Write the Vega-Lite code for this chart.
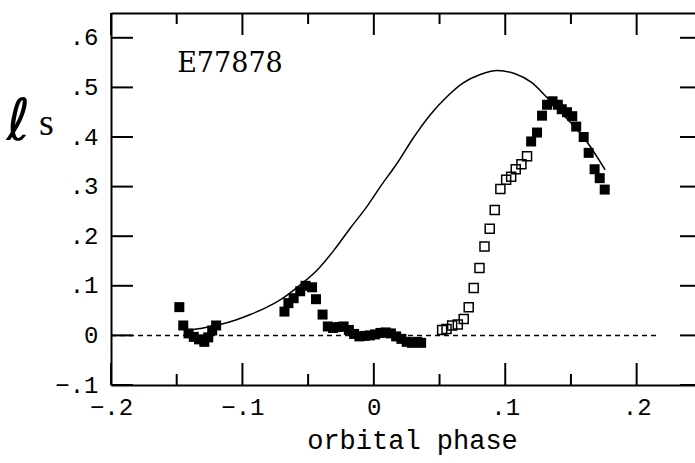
{
  "$schema": "https://vega.github.io/schema/vega-lite/v6.json",
  "width": 584,
  "height": 372,
  "autosize": {"type": "none"},
  "padding": {"left": 111, "top": 13, "right": 0, "bottom": 78},
  "background": "white",
  "config": {
    "view": {"stroke": null},
    "axis": {
      "domainColor": "black",
      "domainWidth": 2,
      "grid": false,
      "labelFont": "Liberation Mono",
      "labelFontSize": 24,
      "labelColor": "black",
      "titleColor": "black"
    }
  },
  "datasets": {
    "model": [
      {"phase": -0.139, "ls": 0.011},
      {"phase": -0.130, "ls": 0.015},
      {"phase": -0.117, "ls": 0.022},
      {"phase": -0.105, "ls": 0.031},
      {"phase": -0.094, "ls": 0.042},
      {"phase": -0.082, "ls": 0.056},
      {"phase": -0.071, "ls": 0.072},
      {"phase": -0.056, "ls": 0.102},
      {"phase": -0.043, "ls": 0.132},
      {"phase": -0.030, "ls": 0.173},
      {"phase": -0.018, "ls": 0.216},
      {"phase": -0.006, "ls": 0.257},
      {"phase": 0.005, "ls": 0.300},
      {"phase": 0.018, "ls": 0.348},
      {"phase": 0.030, "ls": 0.398},
      {"phase": 0.043, "ls": 0.445},
      {"phase": 0.056, "ls": 0.482},
      {"phase": 0.068, "ls": 0.509},
      {"phase": 0.081, "ls": 0.526},
      {"phase": 0.094, "ls": 0.534},
      {"phase": 0.107, "ls": 0.528},
      {"phase": 0.120, "ls": 0.510},
      {"phase": 0.132, "ls": 0.479},
      {"phase": 0.147, "ls": 0.437},
      {"phase": 0.162, "ls": 0.391},
      {"phase": 0.176, "ls": 0.334}
    ],
    "filled": [
      {"phase": -0.148, "ls": 0.057},
      {"phase": -0.145, "ls": 0.020},
      {"phase": -0.141, "ls": 0.004},
      {"phase": -0.137, "ls": -0.003},
      {"phase": -0.133, "ls": -0.008},
      {"phase": -0.129, "ls": -0.013},
      {"phase": -0.126, "ls": -0.004},
      {"phase": -0.123, "ls": 0.010},
      {"phase": -0.120, "ls": 0.020},
      {"phase": -0.068, "ls": 0.048},
      {"phase": -0.065, "ls": 0.065},
      {"phase": -0.061, "ls": 0.075},
      {"phase": -0.056, "ls": 0.089},
      {"phase": -0.052, "ls": 0.100},
      {"phase": -0.047, "ls": 0.097},
      {"phase": -0.044, "ls": 0.073},
      {"phase": -0.039, "ls": 0.042},
      {"phase": -0.035, "ls": 0.018},
      {"phase": -0.031, "ls": 0.015},
      {"phase": -0.027, "ls": 0.017},
      {"phase": -0.023, "ls": 0.018},
      {"phase": -0.019, "ls": 0.011},
      {"phase": -0.015, "ls": 0.003},
      {"phase": -0.011, "ls": -0.002},
      {"phase": -0.007, "ls": -0.001},
      {"phase": -0.003, "ls": 0.000},
      {"phase": 0.001, "ls": 0.002},
      {"phase": 0.005, "ls": 0.005},
      {"phase": 0.009, "ls": 0.006},
      {"phase": 0.013, "ls": 0.004},
      {"phase": 0.017, "ls": -0.002},
      {"phase": 0.021, "ls": -0.007},
      {"phase": 0.025, "ls": -0.013},
      {"phase": 0.029, "ls": -0.015},
      {"phase": 0.033, "ls": -0.013},
      {"phase": 0.036, "ls": -0.015},
      {"phase": 0.1197, "ls": 0.391},
      {"phase": 0.1242, "ls": 0.409},
      {"phase": 0.128, "ls": 0.443},
      {"phase": 0.1318, "ls": 0.465},
      {"phase": 0.136, "ls": 0.472},
      {"phase": 0.140, "ls": 0.465},
      {"phase": 0.143, "ls": 0.456},
      {"phase": 0.147, "ls": 0.450},
      {"phase": 0.151, "ls": 0.442},
      {"phase": 0.154, "ls": 0.421},
      {"phase": 0.1597, "ls": 0.400},
      {"phase": 0.1635, "ls": 0.368},
      {"phase": 0.168, "ls": 0.335},
      {"phase": 0.1719, "ls": 0.317},
      {"phase": 0.1757, "ls": 0.294}
    ],
    "open": [
      {"phase": 0.052, "ls": 0.011},
      {"phase": 0.0553, "ls": 0.013},
      {"phase": 0.0596, "ls": 0.020},
      {"phase": 0.0639, "ls": 0.022},
      {"phase": 0.0684, "ls": 0.033},
      {"phase": 0.0722, "ls": 0.057},
      {"phase": 0.076, "ls": 0.0955},
      {"phase": 0.0804, "ls": 0.136},
      {"phase": 0.0842, "ls": 0.179},
      {"phase": 0.0882, "ls": 0.215},
      {"phase": 0.092, "ls": 0.253},
      {"phase": 0.0963, "ls": 0.295},
      {"phase": 0.1007, "ls": 0.314},
      {"phase": 0.1045, "ls": 0.320},
      {"phase": 0.108, "ls": 0.335},
      {"phase": 0.1123, "ls": 0.345},
      {"phase": 0.1166, "ls": 0.361}
    ],
    "labels": [
      {"phase": -0.1095, "ls": 0.532, "text": "E77878"}
    ],
    "ylabel": [
      {"phase": -0.2491, "ls": 0.4046, "text": "s"}
    ],
    "zero": [
      {"start": -0.2, "end": 0.217, "level": 0}
    ],
    "xticks": [
      {"phase": -0.2, "from": -0.1, "to": -0.0556}, {"phase": -0.1, "from": -0.1, "to": -0.0556}, {"phase": 0, "from": -0.1, "to": -0.0556}, {"phase": 0.1, "from": -0.1, "to": -0.0556}, {"phase": 0.2, "from": -0.1, "to": -0.0556},
      {"phase": -0.2, "from": 0.65, "to": 0.6056}, {"phase": -0.1, "from": 0.65, "to": 0.6056}, {"phase": 0, "from": 0.65, "to": 0.6056}, {"phase": 0.1, "from": 0.65, "to": 0.6056}, {"phase": 0.2, "from": 0.65, "to": 0.6056},
      {"phase": -0.15, "from": -0.1, "to": -0.0778}, {"phase": -0.05, "from": -0.1, "to": -0.0778}, {"phase": 0.05, "from": -0.1, "to": -0.0778}, {"phase": 0.15, "from": -0.1, "to": -0.0778},
      {"phase": -0.15, "from": 0.65, "to": 0.6278}, {"phase": -0.05, "from": 0.65, "to": 0.6278}, {"phase": 0.05, "from": 0.65, "to": 0.6278}, {"phase": 0.15, "from": 0.65, "to": 0.6278}
    ],
    "yticks": [
      {"ls": -0.1, "from": -0.2, "to": -0.1833}, {"ls": 0, "from": -0.2, "to": -0.1833}, {"ls": 0.1, "from": -0.2, "to": -0.1833}, {"ls": 0.2, "from": -0.2, "to": -0.1833},
      {"ls": 0.3, "from": -0.2, "to": -0.1833}, {"ls": 0.4, "from": -0.2, "to": -0.1833}, {"ls": 0.5, "from": -0.2, "to": -0.1833}, {"ls": 0.6, "from": -0.2, "to": -0.1833},
      {"ls": -0.1, "from": 0.2444, "to": 0.2330}, {"ls": 0, "from": 0.2444, "to": 0.2330}, {"ls": 0.1, "from": 0.2444, "to": 0.2330}, {"ls": 0.2, "from": 0.2444, "to": 0.2330},
      {"ls": 0.3, "from": 0.2444, "to": 0.2330}, {"ls": 0.4, "from": 0.2444, "to": 0.2330}, {"ls": 0.5, "from": 0.2444, "to": 0.2330}, {"ls": 0.6, "from": 0.2444, "to": 0.2330}
    ]
  },
  "resolve": {"axis": {"x": "independent", "y": "independent"}},
  "layer": [
    {
      "data": {"name": "model"},
      "mark": {"type": "line", "color": "black", "strokeWidth": 1.5, "interpolate": "monotone", "clip": true},
      "encoding": {
        "x": {
          "field": "phase", "type": "quantitative",
          "scale": {"domain": [-0.2, 0.2444], "nice": false, "zero": false},
          "axis": {
            "orient": "bottom", "values": [-0.2, -0.1, 0, 0.1, 0.2], "ticks": false, "tickSize": 0,
            "labelPadding": 10, "labelBaseline": "top", "labelFlush": false,
            "labelExpr": "datum.value == 0 ? '0' : replace(replace(format(datum.value, '.1f'), '0.', '.'), '-', '−')",
            "title": "orbital phase", "titleFont": "Liberation Mono", "titleFontSize": 27, "titleFontWeight": "normal",
            "titleX": 301, "titleY": 63, "titleBaseline": "alphabetic", "titleAlign": "center"
          }
        },
        "y": {
          "field": "ls", "type": "quantitative",
          "scale": {"domain": [-0.1, 0.65], "nice": false, "zero": false},
          "axis": {
            "orient": "left", "values": [-0.1, 0, 0.1, 0.2, 0.3, 0.4, 0.5, 0.6], "ticks": false, "tickSize": 0,
            "labelPadding": 13, "labelFlush": false,
            "labelExpr": "datum.value == 0 ? '0' : replace(replace(format(datum.value, '.1f'), '0.', '.'), '-', '−')",
            "title": "ℓ", "titleFont": "DejaVu Sans", "titleFontSize": 58, "titleFontWeight": "normal",
            "titleAngle": 0, "titleX": -93, "titleY": 126, "titleBaseline": "alphabetic", "titleAlign": "center"
          }
        }
      }
    },
    {
      "data": {"name": "filled"},
      "mark": {"type": "square", "color": "black", "filled": true, "opacity": 1, "size": 100},
      "encoding": {
        "x": {"field": "phase", "type": "quantitative", "axis": null},
        "y": {"field": "ls", "type": "quantitative", "axis": null}
      }
    },
    {
      "data": {"name": "open"},
      "mark": {"type": "square", "color": "black", "filled": false, "fill": null, "opacity": 1, "strokeWidth": 1.5, "size": 81},
      "encoding": {
        "x": {
          "field": "phase", "type": "quantitative",
          "axis": {"orient": "top", "values": [-0.2, -0.1, 0, 0.1, 0.2], "ticks": false, "tickSize": 0, "labels": false, "title": null}
        },
        "y": {"field": "ls", "type": "quantitative", "axis": null}
      }
    },
    {
      "data": {"name": "zero"},
      "mark": {"type": "rule", "color": "black", "strokeWidth": 1.5, "strokeDash": [5, 4]},
      "encoding": {
        "x": {"field": "start", "type": "quantitative", "axis": null},
        "x2": {"field": "end"},
        "y": {"field": "level", "type": "quantitative", "axis": null}
      }
    },
    {
      "data": {"name": "xticks"},
      "mark": {"type": "rule", "color": "black", "strokeWidth": 2},
      "encoding": {
        "x": {"field": "phase", "type": "quantitative", "axis": null},
        "y": {"field": "from", "type": "quantitative", "axis": null},
        "y2": {"field": "to"}
      }
    },
    {
      "data": {"name": "yticks"},
      "mark": {"type": "rule", "color": "black", "strokeWidth": 2},
      "encoding": {
        "y": {"field": "ls", "type": "quantitative", "axis": null},
        "x": {"field": "from", "type": "quantitative", "axis": null},
        "x2": {"field": "to"}
      }
    },
    {
      "data": {"name": "labels"},
      "mark": {"type": "text", "font": "DejaVu Serif", "fontSize": 27, "color": "black", "align": "center", "baseline": "alphabetic"},
      "encoding": {
        "x": {"field": "phase", "type": "quantitative", "axis": null},
        "y": {"field": "ls", "type": "quantitative", "axis": null},
        "text": {"field": "text"}
      }
    },
    {
      "data": {"name": "ylabel"},
      "mark": {"type": "text", "font": "Liberation Serif", "fontSize": 38, "color": "black", "align": "center", "baseline": "alphabetic", "clip": false},
      "encoding": {
        "x": {"field": "phase", "type": "quantitative", "axis": null},
        "y": {"field": "ls", "type": "quantitative", "axis": null},
        "text": {"field": "text"}
      }
    }
  ]
}
